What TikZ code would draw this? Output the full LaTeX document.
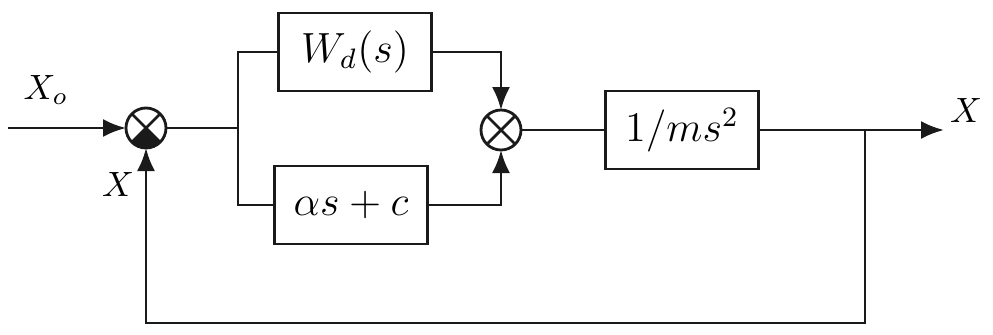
\documentclass[tikz,border=0pt]{standalone}
\usepackage{tikz}
\usepackage{amsmath}
\usetikzlibrary{arrows.meta,positioning,calc}
\definecolor{Ink}{HTML}{1A1A1A}
\tikzset{
  blk/.style={draw=Ink,thick,minimum width=15.3mm,minimum height=7.8mm,font=\large},
  summ/.style={draw=Ink,thick,circle,minimum size=4mm,inner sep=0pt,outer sep=0pt},
  wire/.style={thick,Ink},
  sig/.style={thick,Ink,-{Latex[length=2.3mm,width=1.8mm]}},
}
\begin{document}
\begin{tikzpicture}[x=1mm,y=1mm]
  \useasboundingbox (0,0) rectangle (99.3,33.4);
  % summing points
  \node[summ] (sA) at (14.6,20.6) {};
  \node[summ] (sB) at (50.1,20.4) {};
  \foreach \s in {sA,sB}{
    \draw[wire] (\s.45)--(\s.225) (\s.135)--(\s.-45);
  }
  \fill[Ink] (sA.center)--(sA.-45) arc[start angle=-45,end angle=-135,radius=2mm]--cycle;
  % blocks
  \node[blk] (wd) at (35.5,28.2) {$W_d(s)$};
  \node[blk] (pd) at (35.1,12.9) {$\alpha s+c$};
  \node[blk] (pl) at (68.2,20.4) {$1/ms^2$};
  % free ends and branch points
  \coordinate (in) at (0.8,20.6);
  \coordinate (br) at (23.8,20.6);
  \coordinate (out) at (94.4,20.4);
  \coordinate (fb) at (86.5,20.4);
  \coordinate (fbl) at (86.5,1.1);
  \draw[sig] (in)--(sA);
  \draw[wire] (sA)--(br);
  \draw[wire] (wd.west) -| (br) |- (pd.west);
  \draw[sig] (wd.east) -| (sB.north);
  \draw[sig] (pd.east) -| (sB.south);
  \draw[wire] (sB)--(pl);
  \draw[sig] (pl)--(out);
  \draw[sig] (fb)--(fbl) -| (sA.south);
  % labels
  \node (xo) at (4.6,24.4) {$X_o$};
  \node (xfb) at (11.8,15.0) {$X$};
  \node (xout) at (96.6,22.4) {$X$};
\end{tikzpicture}
\end{document}
